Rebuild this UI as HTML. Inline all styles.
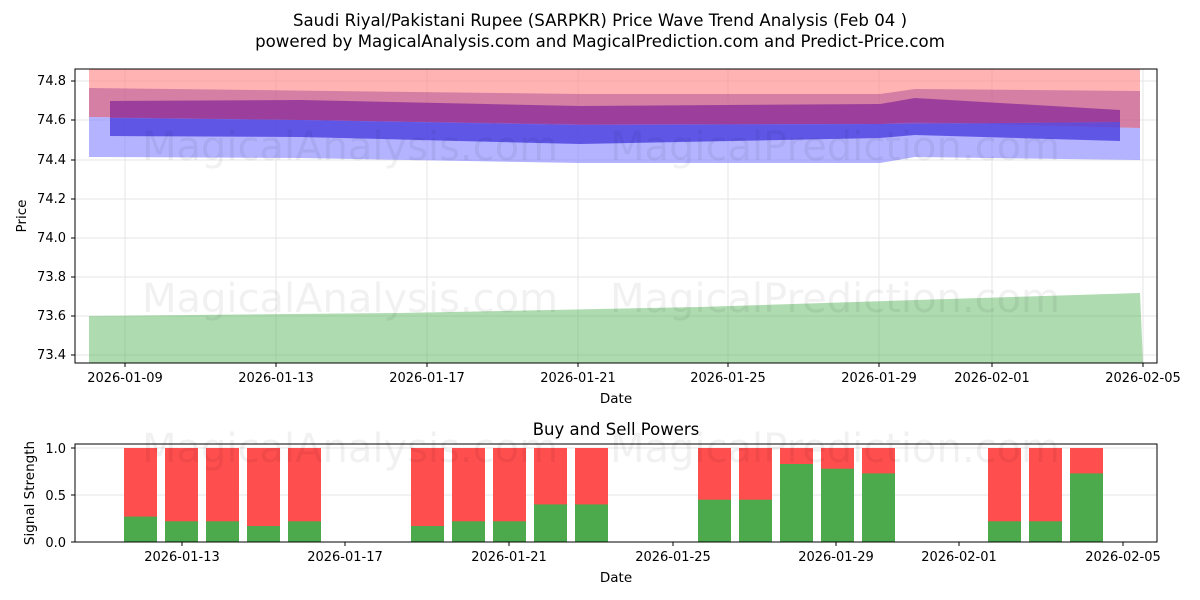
<!DOCTYPE html>
<html><head><meta charset="utf-8"><style>
html,body{margin:0;padding:0;background:#fff}
svg{display:block;font-family:"DejaVu Sans","Liberation Sans",sans-serif}
</style></head><body>
<svg width="1200" height="600" xmlns="http://www.w3.org/2000/svg">
<rect width="1200" height="600" fill="#fff"/>
<text x="600" y="26" font-size="16.6" text-anchor="middle">Saudi Riyal/Pakistani Rupee (SARPKR) Price Wave Trend Analysis (Feb 04 )</text>
<text x="600" y="47" font-size="16.6" text-anchor="middle">powered by MagicalAnalysis.com and MagicalPrediction.com and Predict-Price.com</text>

<defs><clipPath id="c1"><rect x="75" y="69" width="1082" height="294"/></clipPath></defs>
<g stroke="#e5e5e5" stroke-width="1">
<line x1="125" y1="69" x2="125" y2="363"/><line x1="276" y1="69" x2="276" y2="363"/><line x1="427" y1="69" x2="427" y2="363"/><line x1="578" y1="69" x2="578" y2="363"/><line x1="728" y1="69" x2="728" y2="363"/><line x1="879" y1="69" x2="879" y2="363"/><line x1="992" y1="69" x2="992" y2="363"/><line x1="1143" y1="69" x2="1143" y2="363"/>
<line x1="75" y1="81" x2="1157" y2="81"/><line x1="75" y1="120" x2="1157" y2="120"/><line x1="75" y1="160" x2="1157" y2="160"/><line x1="75" y1="199" x2="1157" y2="199"/><line x1="75" y1="238" x2="1157" y2="238"/><line x1="75" y1="277" x2="1157" y2="277"/><line x1="75" y1="316" x2="1157" y2="316"/><line x1="75" y1="355" x2="1157" y2="355"/>
</g>
<g clip-path="url(#c1)">
<polygon points="89,60 1140,60 1140,128 915,122 880,124 580,124 300,120 89,117" fill="#ff8080" opacity="0.6"/>
<polygon points="89,117 300,120 580,124 880,124 915,122 1140,128 1140,160 915,157 880,163 580,163 300,158 89,157" fill="#8080ff" opacity="0.6"/>
<polygon points="89,88 580,94 880,94 915,89 1140,91 1140,128 915,122 880,124 580,124 300,120 89,117" fill="#a04090" opacity="0.45"/>
<polygon points="110,101 300,100 580,106 880,104 915,98 1120,110 1120,122 880,124 580,125 300,120 110,118" fill="#8a2a9a" opacity="0.75"/>
<polygon points="110,118 300,120 580,125 880,124 1120,122 1120,141 915,135 880,138 580,144 300,137 110,136" fill="#4a3ee0" opacity="0.8"/>
<polygon points="89,316 400,313 700,307 915,300 1140,293 1143,363 89,363" fill="#4caf50" opacity="0.45"/>
</g>
<text x="350" y="312" font-size="40" fill="#000" opacity="0.05" text-anchor="middle">MagicalAnalysis.com</text>
<text x="835" y="312" font-size="40" fill="#000" opacity="0.05" text-anchor="middle">MagicalPrediction.com</text>
<text x="350" y="160" font-size="40" fill="#000" opacity="0.05" text-anchor="middle">MagicalAnalysis.com</text>
<text x="835" y="160" font-size="40" fill="#000" opacity="0.05" text-anchor="middle">MagicalPrediction.com</text>
<rect x="75" y="69" width="1082" height="294" fill="none" stroke="#000" stroke-width="1"/>
<g font-size="13" text-anchor="end">
<text x="66" y="85">74.8</text><text x="66" y="124">74.6</text><text x="66" y="164">74.4</text><text x="66" y="203">74.2</text><text x="66" y="242">74.0</text><text x="66" y="281">73.8</text><text x="66" y="320">73.6</text><text x="66" y="359">73.4</text>
</g>
<g stroke="#000"><line x1="71" y1="81" x2="75" y2="81"/><line x1="71" y1="120" x2="75" y2="120"/><line x1="71" y1="160" x2="75" y2="160"/><line x1="71" y1="199" x2="75" y2="199"/><line x1="71" y1="238" x2="75" y2="238"/><line x1="71" y1="277" x2="75" y2="277"/><line x1="71" y1="316" x2="75" y2="316"/><line x1="71" y1="355" x2="75" y2="355"/>
<line x1="125" y1="363" x2="125" y2="367"/><line x1="276" y1="363" x2="276" y2="367"/><line x1="427" y1="363" x2="427" y2="367"/><line x1="578" y1="363" x2="578" y2="367"/><line x1="728" y1="363" x2="728" y2="367"/><line x1="879" y1="363" x2="879" y2="367"/><line x1="992" y1="363" x2="992" y2="367"/><line x1="1143" y1="363" x2="1143" y2="367"/></g>
<g font-size="13" text-anchor="middle">
<text x="125" y="382">2026-01-09</text><text x="276" y="382">2026-01-13</text><text x="427" y="382">2026-01-17</text><text x="578" y="382">2026-01-21</text><text x="728" y="382">2026-01-25</text><text x="879" y="382">2026-01-29</text><text x="992" y="382">2026-02-01</text><text x="1143" y="382">2026-02-05</text>
<text x="616" y="403" font-size="13.5">Date</text>
</g>
<text x="26" y="216" font-size="13.5" text-anchor="middle" transform="rotate(-90 26 216)">Price</text>

<text x="616" y="435" font-size="16.5" text-anchor="middle">Buy and Sell Powers</text>
<g stroke="#e5e5e5"><line x1="75" y1="448" x2="1157" y2="448"/><line x1="75" y1="495" x2="1157" y2="495"/></g>
<g>
<rect x="124" y="448" width="33" height="94" fill="#ff4444" opacity="0.95"/><rect x="124" y="516.6" width="33" height="25.4" fill="#4caa4c"/>
<rect x="165" y="448" width="33" height="94" fill="#ff4444" opacity="0.95"/><rect x="165" y="521.3" width="33" height="20.7" fill="#4caa4c"/>
<rect x="206" y="448" width="33" height="94" fill="#ff4444" opacity="0.95"/><rect x="206" y="521.3" width="33" height="20.7" fill="#4caa4c"/>
<rect x="247" y="448" width="33" height="94" fill="#ff4444" opacity="0.95"/><rect x="247" y="526" width="33" height="16" fill="#4caa4c"/>
<rect x="288" y="448" width="33" height="94" fill="#ff4444" opacity="0.95"/><rect x="288" y="521.3" width="33" height="20.7" fill="#4caa4c"/>
<rect x="411" y="448" width="33" height="94" fill="#ff4444" opacity="0.95"/><rect x="411" y="526" width="33" height="16" fill="#4caa4c"/>
<rect x="452" y="448" width="33" height="94" fill="#ff4444" opacity="0.95"/><rect x="452" y="521.3" width="33" height="20.7" fill="#4caa4c"/>
<rect x="493" y="448" width="33" height="94" fill="#ff4444" opacity="0.95"/><rect x="493" y="521.3" width="33" height="20.7" fill="#4caa4c"/>
<rect x="534" y="448" width="33" height="94" fill="#ff4444" opacity="0.95"/><rect x="534" y="504.4" width="33" height="37.6" fill="#4caa4c"/>
<rect x="575" y="448" width="33" height="94" fill="#ff4444" opacity="0.95"/><rect x="575" y="504.4" width="33" height="37.6" fill="#4caa4c"/>
<rect x="698" y="448" width="33" height="94" fill="#ff4444" opacity="0.95"/><rect x="698" y="499.7" width="33" height="42.3" fill="#4caa4c"/>
<rect x="739" y="448" width="33" height="94" fill="#ff4444" opacity="0.95"/><rect x="739" y="499.7" width="33" height="42.3" fill="#4caa4c"/>
<rect x="780" y="448" width="33" height="94" fill="#ff4444" opacity="0.95"/><rect x="780" y="464" width="33" height="78" fill="#4caa4c"/>
<rect x="821" y="448" width="33" height="94" fill="#ff4444" opacity="0.95"/><rect x="821" y="468.7" width="33" height="73.3" fill="#4caa4c"/>
<rect x="862" y="448" width="33" height="94" fill="#ff4444" opacity="0.95"/><rect x="862" y="473.4" width="33" height="68.6" fill="#4caa4c"/>
<rect x="988" y="448" width="33" height="94" fill="#ff4444" opacity="0.95"/><rect x="988" y="521.3" width="33" height="20.7" fill="#4caa4c"/>
<rect x="1029" y="448" width="33" height="94" fill="#ff4444" opacity="0.95"/><rect x="1029" y="521.3" width="33" height="20.7" fill="#4caa4c"/>
<rect x="1070" y="448" width="33" height="94" fill="#ff4444" opacity="0.95"/><rect x="1070" y="473.4" width="33" height="68.6" fill="#4caa4c"/>
</g>
<text x="350" y="462" font-size="40" fill="#000" opacity="0.05" text-anchor="middle">MagicalAnalysis.com</text>
<text x="835" y="462" font-size="40" fill="#000" opacity="0.05" text-anchor="middle">MagicalPrediction.com</text>
<rect x="75" y="444" width="1082" height="98" fill="none" stroke="#000"/>
<g stroke="#000"><line x1="71" y1="448" x2="75" y2="448"/><line x1="71" y1="495" x2="75" y2="495"/><line x1="71" y1="542" x2="75" y2="542"/>
<line x1="182" y1="542" x2="182" y2="546"/><line x1="345" y1="542" x2="345" y2="546"/><line x1="509" y1="542" x2="509" y2="546"/><line x1="673" y1="542" x2="673" y2="546"/><line x1="836" y1="542" x2="836" y2="546"/><line x1="959" y1="542" x2="959" y2="546"/><line x1="1123" y1="542" x2="1123" y2="546"/></g>
<g font-size="13" text-anchor="end"><text x="66" y="453">1.0</text><text x="66" y="500">0.5</text><text x="66" y="547">0.0</text></g>
<g font-size="13" text-anchor="middle">
<text x="182" y="561">2026-01-13</text><text x="345" y="561">2026-01-17</text><text x="509" y="561">2026-01-21</text><text x="673" y="561">2026-01-25</text><text x="836" y="561">2026-01-29</text><text x="959" y="561">2026-02-01</text><text x="1123" y="561">2026-02-05</text>
<text x="616" y="582" font-size="13.5">Date</text></g>
<text x="34" y="493" font-size="13.5" text-anchor="middle" transform="rotate(-90 34 493)">Signal Strength</text>
</svg>
</body></html>
